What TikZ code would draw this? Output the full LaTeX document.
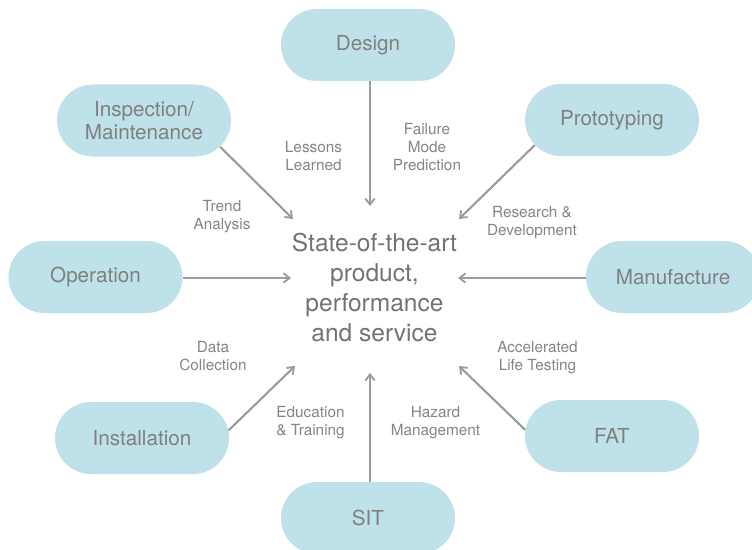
\documentclass[tikz,border=0pt]{standalone}
\usepackage{fontspec}
\setmainfont{TeX Gyre Heros}
\usetikzlibrary{arrows.meta,shapes.misc}
\definecolor{pill}{HTML}{BFE1EA}
\definecolor{pilltext}{HTML}{808080}
\definecolor{labtext}{HTML}{858585}
\definecolor{centertext}{HTML}{737373}
\definecolor{arrowcol}{HTML}{9C9C9C}
\tikzset{
  pillnode/.style={rounded rectangle, fill=pill, draw=none, minimum width=130.5pt,
    minimum height=54pt, inner sep=0pt, text=pilltext, align=center,
    font=\fontsize{15.5pt}{17.25pt}\selectfont},
  lab/.style={inner sep=0pt, text=labtext, align=center,
    font=\fontsize{11.5pt}{13.5pt}\selectfont},
  arr/.style={draw=arrowcol, line width=1.6pt, -{Straight Barb[length=4.5pt,width=7pt,line width=1.4pt]}},
}
\begin{document}
\begin{tikzpicture}[x=0.75pt,y=-0.75pt]
\clip (0,0) rectangle (752,549);
\fill[white] (0,0) rectangle (752,549);
% pills
\node[pillnode] (design) at (368,45) {Design};
\node[pillnode] (insp) at (144,120.5) {Inspection/\\Maintenance};
\node[pillnode] (proto) at (612,120) {Prototyping};
\node[pillnode] (op) at (95.5,277) {Operation};
\node[pillnode] (man) at (673,277) {Manufacture};
\node[pillnode] (inst) at (142,438) {Installation};
\node[pillnode] (fat) at (612,436) {FAT};
\node[pillnode] (sit) at (368,518) {SIT};
% centre
\node[inner sep=0pt, text=centertext, align=center,
  font=\fontsize{18.4pt}{22.5pt}\selectfont] (center) at (374.5,288)
  {State-of-the-art\\product,\\performance\\and service};
% arrow tips
\coordinate (tD) at (370,206);
\coordinate (tS) at (370,373);
\coordinate (tO) at (291,278);
\coordinate (tM) at (458,278);
\coordinate (tI) at (293,219);
\coordinate (tP) at (459,219);
\coordinate (tN) at (295,366);
\coordinate (tF) at (459,366);
% arrows
\draw[arr] (design.south -| tD) -- (tD);
\draw[arr] (sit.north -| tS) -- (tS);
\draw[arr] (op.east |- tO) -- (tO);
\draw[arr] (man.west |- tM) -- (tM);
\draw[arr] (insp.-19) -- (tI);
\draw[arr] (proto.198) -- (tP);
\draw[arr] (inst.5) -- (tN);
\draw[arr] (fat.176) -- (tF);
% labels
\node[lab] (l1) at (313.5,156.5) {Lessons\\Learned};
\node[lab] (l2) at (427,147) {Failure\\Mode\\Prediction};
\node[lab] (l3) at (222,217) {Trend\\Analysis};
\node[lab] (l4) at (532,222.5) {Research \&\\Development};
\node[lab] (l5) at (213,356) {Data\\Collection};
\node[lab] (l6) at (537.5,357.5) {Accelerated\\Life Testing};
\node[lab] (l7) at (310.5,422.5) {Education\\\& Training};
\node[lab] (l8) at (435.5,422.5) {Hazard\\Management};
\end{tikzpicture}
\end{document}
